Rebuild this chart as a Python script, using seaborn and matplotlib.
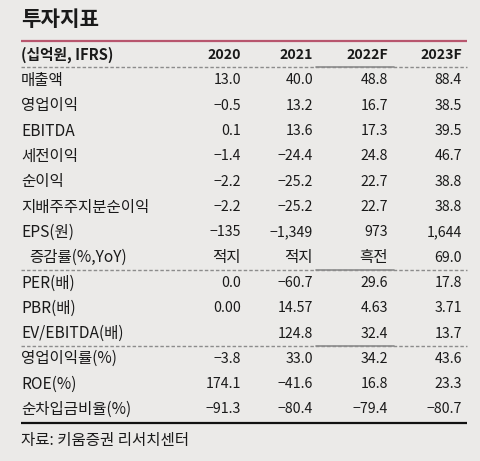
import matplotlib
matplotlib.use("Agg")
import matplotlib.pyplot as plt
import seaborn as sns

sns.set_theme(style="white")
plt.rcParams['font.family'] = ['Noto Sans CJK KR', 'DejaVu Sans']

# ---- data ----
title = "투자지표"
unit_label = "(십억원, IFRS)"
col_headers = ["2020", "2021", "2022F", "2023F"]
row_labels = ["매출액", "영업이익", "EBITDA", "세전이익", "순이익", "지배주주지분순이익",
              "EPS(원)", "증감률(%,YoY)", "PER(배)", "PBR(배)", "EV/EBITDA(배)",
              "영업이익률(%)", "ROE(%)", "순차입금비율(%)"]
v2020 = ["13.0", "−0.5", "0.1", "−1.4", "−2.2", "−2.2", "−135", "적지",
         "0.0", "0.00", "", "−3.8", "174.1", "−91.3"]
v2021 = ["40.0", "13.2", "13.6", "−24.4", "−25.2", "−25.2", "−1,349", "적지",
         "−60.7", "14.57", "124.8", "33.0", "−41.6", "−80.4"]
v2022 = ["48.8", "16.7", "17.3", "24.8", "22.7", "22.7", "973", "흑전",
         "29.6", "4.63", "32.4", "34.2", "16.8", "−79.4"]
v2023 = ["88.4", "38.5", "39.5", "46.7", "38.8", "38.8", "1,644", "69.0",
         "17.8", "3.71", "13.7", "43.6", "23.3", "−80.7"]
source = "자료: 키움증권 리서치센터"

# ---- layout ----
W, H = 480, 461
bg = "#ebeae8"
fig = plt.figure(figsize=(W / 100, H / 100), dpi=100, facecolor=bg)
ax = fig.add_axes([0, 0, 1, 1])
ax.set_xlim(0, W)
ax.set_ylim(H, 0)
ax.axis("off")
ax.set_facecolor(bg)

txt = "#1a1a1a"
x_left, x_right = 21, 467
col_x = [241, 313, 388, 462]
row_y0, row_dy = 80.5, 25.3
fs_num = 10.2
fs_lab = 11.2


def is_korean(s):
    return any('\uac00' <= ch <= '\ud7a3' for ch in s)


ax.text(x_left, 19, title, fontsize=15.3, fontweight="bold", color=txt,
        ha="left", va="center")
ax.plot([x_left, x_right], [41, 41], color="#b8566e", lw=1.6, solid_capstyle="butt")

header_y = 55
ax.text(x_left, header_y, unit_label, fontsize=10.6, fontweight="bold", color=txt,
        ha="left", va="center")
for cx, h in zip(col_x, col_headers):
    ax.text(cx, header_y, h, fontsize=fs_num, fontweight="bold", color=txt,
            ha="right", va="center")


def dashed(y):
    ax.plot([x_left, x_right], [y, y], color="#8c8c8c", lw=1.0,
            linestyle=(0, (2.5, 1.5)))
    ax.plot([316, 394], [y, y], color="#8c8c8c", lw=1.2)


dashed(67.5)
for i, lab in enumerate(row_labels):
    y = row_y0 + i * row_dy
    lx = x_left + 8 if lab.startswith("증감률") else x_left
    ax.text(lx, y, lab, fontsize=fs_lab, color=txt, ha="left", va="center")
    for cx, vals in zip(col_x, [v2020, v2021, v2022, v2023]):
        s = vals[i]
        ax.text(cx, y, s, fontsize=fs_lab if is_korean(s) else fs_num, color=txt,
                ha="right", va="center")

dashed(row_y0 + 7.5 * row_dy)
dashed(row_y0 + 10.5 * row_dy)
bottom_y = row_y0 + 13.5 * row_dy + 0.5
ax.plot([x_left, x_right], [bottom_y, bottom_y], color="#111111", lw=1.6,
        solid_capstyle="butt")
ax.text(x_left, 440, source, fontsize=fs_lab, color=txt, ha="left", va="center")

fig.savefig("out.png", dpi=100, facecolor=bg)
